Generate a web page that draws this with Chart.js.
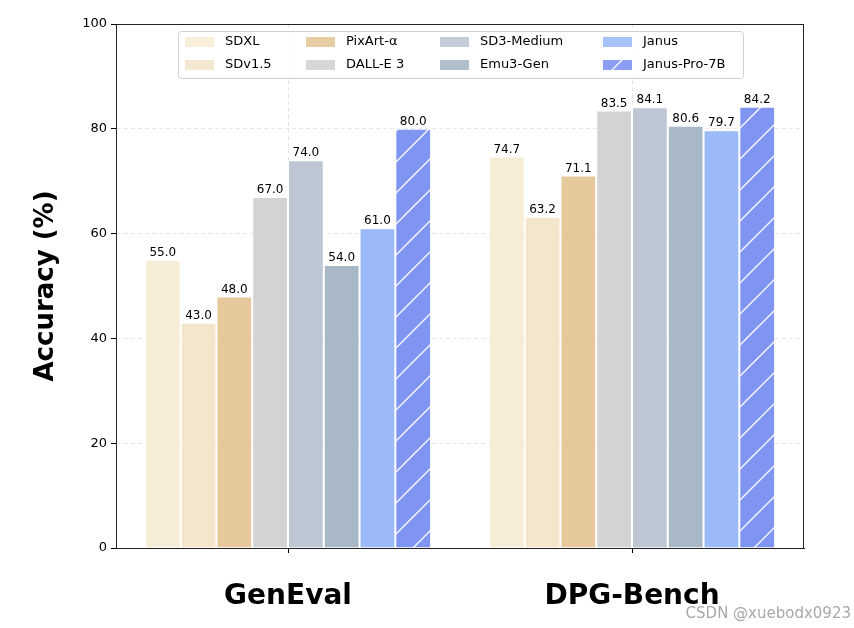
<!DOCTYPE html>
<html>
<head>
<meta charset="utf-8">
<script src="https://cdn.jsdelivr.net/npm/chart.js@4"></script>
<style>
  html, body { margin: 0; padding: 0; background: #fff; }
  #wrap { width: 854px; height: 628px; position: relative; }
</style>
</head>
<body>
<div id="wrap"><canvas id="accChart" width="854" height="628"></canvas></div>
<script>
// benchmark categories and model scores
const benchmarks = ['GenEval', 'DPG-Bench'];
const models = ['SDXL', 'SDv1.5', 'PixArt-α', 'DALL-E 3', 'SD3-Medium', 'Emu3-Gen', 'Janus', 'Janus-Pro-7B'];
const sdxl = [55.0, 74.7];
const sdv15 = [43.0, 63.2];
const pixart = [48.0, 71.1];
const dalle3 = [67.0, 83.5];
const sd3 = [74.0, 84.1];
const emu3 = [54.0, 80.6];
const janus = [61.0, 79.7];
const janusPro = [80.0, 84.2];
const yTicks = [0, 20, 40, 60, 80, 100];

const modelColors = ['#F7ECD6', '#F4E6CC', '#E6C99B', '#D3D3D3', '#BDC7D3', '#A9B8C7', '#9DBAF8', '#8094F2'];
const allValues = [sdxl, sdv15, pixart, dalle3, sd3, emu3, janus, janusPro];

// hatch pattern for the last model ('/' hatch, white lines)
function makeHatch(color) {
    const size = 31;
    const c = document.createElement('canvas');
    c.width = size; c.height = size;
    const g = c.getContext('2d');
    g.fillStyle = color;
    g.fillRect(0, 0, size, size);
    g.strokeStyle = 'rgba(255,255,255,0.95)';
    g.lineWidth = 1.4;
    g.beginPath();
    g.moveTo(-2, size + 2); g.lineTo(size + 2, -2);
    g.moveTo(-2 - size, size + 2); g.lineTo(2, -2);
    g.moveTo(size - 2, size + 2); g.lineTo(size * 2 + 2, -2);
    g.stroke();
    return g.createPattern(c, 'repeat');
}
const hatch = makeHatch(modelColors[7]);

const datasets = models.map(function (name, i) {
    return {
        label: name,
        data: allValues[i],
        backgroundColor: i === 7 ? hatch : modelColors[i],
        borderColor: '#ffffff',
        borderWidth: 1,
        categoryPercentage: 0.832,
        barPercentage: 1.0
    };
});

// value labels over the bars, plot frame, legend and watermark
const extrasPlugin = {
    id: 'extras',
    afterDatasetsDraw(chart) {
        const ctx = chart.ctx;
        ctx.save();
        ctx.font = '12px "DejaVu Sans"';
        ctx.fillStyle = '#000';
        ctx.textAlign = 'center';
        ctx.textBaseline = 'bottom';
        chart.data.datasets.forEach(function (ds, i) {
            const meta = chart.getDatasetMeta(i);
            meta.data.forEach(function (bar, j) {
                ctx.fillText(ds.data[j].toFixed(1), bar.x, bar.y - 1);
            });
        });
        ctx.restore();
    },
    afterDraw(chart) {
        const ctx = chart.ctx;
        const a = chart.chartArea;
        ctx.save();
        // frame
        ctx.strokeStyle = '#222';
        ctx.lineWidth = 1;
        ctx.strokeRect(a.left + 0.5, a.top + 0.5, a.right - a.left - 1, a.bottom - a.top);

        // legend (4 columns, 2 rows, column-major)
        const boxL = 178, boxT = 31, boxW = 565, boxH = 47;
        ctx.fillStyle = 'rgba(255,255,255,0.85)';
        ctx.strokeStyle = '#d0d0d0';
        ctx.lineWidth = 1;
        ctx.beginPath();
        ctx.roundRect(boxL + 0.5, boxT + 0.5, boxW, boxH, 3);
        ctx.fill();
        ctx.stroke();
        const colX = [185, 306, 440, 603];
        const rowY = [42, 65];
        ctx.font = '13px "DejaVu Sans"';
        ctx.textBaseline = 'middle';
        ctx.textAlign = 'left';
        chart.data.datasets.forEach(function (ds, i) {
            const col = Math.floor(i / 2), row = i % 2;
            const x = colX[col], y = rowY[row];
            ctx.fillStyle = ds.backgroundColor;
            ctx.globalAlpha = 0.9;
            ctx.fillRect(x, y - 5, 29, 10);
            ctx.globalAlpha = 1;
            ctx.fillStyle = '#000';
            ctx.fillText(ds.label, x + 40, y);
        });

        // watermark
        ctx.font = '15px "DejaVu Sans"';
        ctx.fillStyle = '#a8a8a8';
        ctx.textAlign = 'right';
        ctx.textBaseline = 'alphabetic';
        ctx.fillText('CSDN @xuebodx0923', 851, 618);
        ctx.restore();
    }
};

const accChart = new Chart(document.getElementById('accChart').getContext('2d'), {
    type: 'bar',
    data: { labels: benchmarks, datasets: datasets },
    options: {
        responsive: false,
        animation: { duration: 0 },
        devicePixelRatio: 1,
        layout: { padding: { left: 0, right: 50, top: 24, bottom: 0 } },
        plugins: {
            legend: { display: false },
            tooltip: { enabled: false }
        },
        scales: {
            x: {
                grid: {
                    offset: false,
                    color: '#e4e4e4',
                    tickColor: '#000',
                    tickLength: 5,
                    lineWidth: 1
                },
                border: { color: '#222', dash: [4, 3] },
                ticks: {
                    color: '#000',
                    font: { family: 'DejaVu Sans', size: 28, weight: 'bold' },
                    padding: 27
                },
                afterFit: function (scale) { scale.height = 80; }
            },
            y: {
                min: 0,
                max: 100,
                grid: {
                    color: '#e6e6e6',
                    tickColor: '#000',
                    tickLength: 5
                },
                border: { color: '#222', dash: [4, 3] },
                afterBuildTicks: function (scale) {
                    scale.ticks = yTicks.map(function (v) { return { value: v }; });
                },
                ticks: {
                    color: '#000',
                    font: { family: 'DejaVu Sans', size: 13 },
                    padding: 4
                },
                title: {
                    display: true,
                    text: 'Accuracy (%)',
                    color: '#000',
                    font: { family: 'DejaVu Sans', size: 26, weight: 'bold' },
                    padding: { top: 31, bottom: 0 }
                },
                afterFit: function (scale) { scale.width = 116; }
            }
        }
    },
    plugins: [extrasPlugin]
});
</script>
</body>
</html>
